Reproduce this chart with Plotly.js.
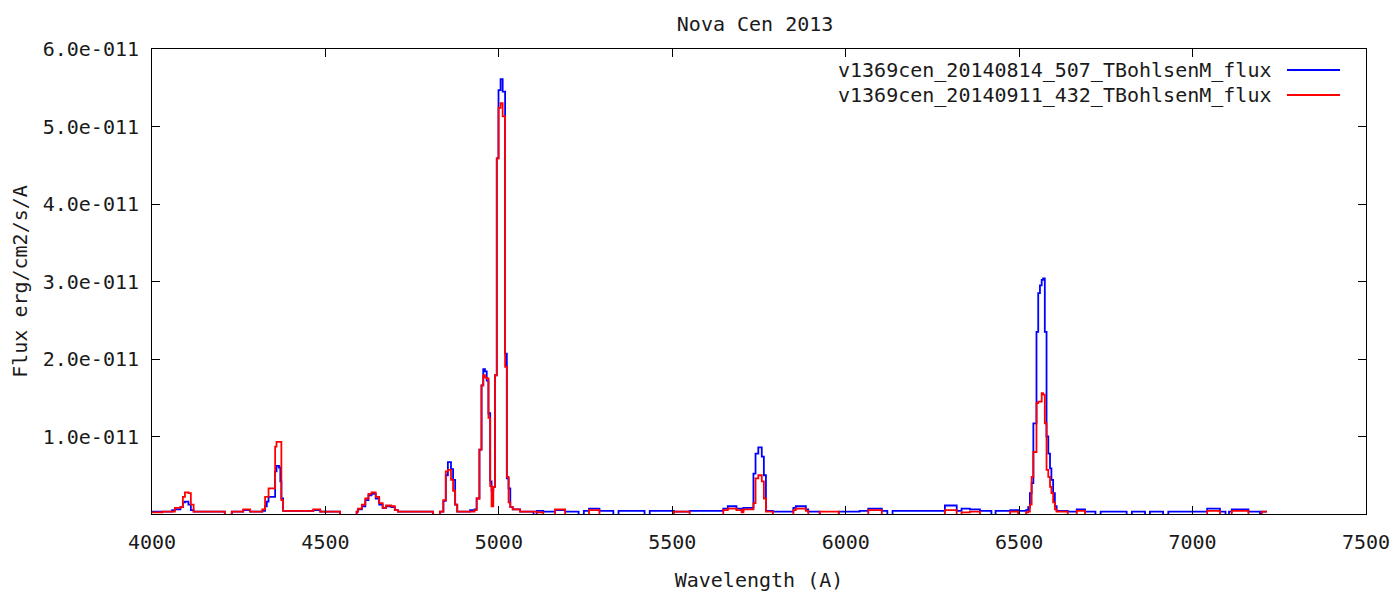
<!DOCTYPE html>
<html>
<head>
<meta charset="utf-8">
<script src="https://cdn.plot.ly/plotly-3.0.1.min.js"></script>
<style>html,body{margin:0;padding:0;background:#fff;}#chart{width:1397px;height:592px;}</style>
</head>
<body>
<div id="chart"></div>
<script>
// Wavelength (Angstrom) sample points (step edges)
const wavelength = [
4000,4030,4058,4066,4082,4089,4095,4105,4112,4120,4210,4230,4263,4283,4318,4326,4331,4336,4355,4359,
4366,4370,4373,4378,4465,4485,4542,4590,4594,4605,4615,4624,4633,4645,4655,4665,4675,4690,4700,4709,
4810,4830,4840,4847,4853,4862,4868,4874,4880,4917,4930,4936,4944,4950,4955,4960,4965,4970,4975,4979,
4984,4989,4994,4999,5005,5011,5018,5023,5028,5033,5040,5061,5100,5109,5128,5162,5191,5230,5245,5260,
5290,5330,5345,5420,5435,5505,5550,5647,5660,5685,5700,5705,5734,5740,5748,5758,5764,5770,5790,5849,
5856,5885,5892,5925,5980,6040,6065,6104,6120,6135,6286,6320,6334,6358,6387,6420,6432,6474,6497,6520,
6526,6531,6536,6541,6550,6555,6560,6565,6569,6574,6579,6584,6589,6593,6598,6603,6608,6640,6666,6690,
6720,6735,6810,6825,6863,6877,6915,6930,7042,7079,7095,7105,7113,7161,7194,7199,7214
];
// Flux in units of 1e-11 erg/cm2/s/A (values below 0 fall outside the plotted range)
const flux20140814 = [
0.03,0.03,0.05,0.06,0.09,0.15,0.16,0.12,0.05,0.03,-0.02,0.03,0.05,0.03,0.04,0.10,0.16,0.22,0.55,0.62,
0.60,0.42,0.20,0.04,0.05,0.03,-0.02,0.03,0.06,0.10,0.18,0.24,0.26,0.20,0.12,0.08,0.10,0.09,0.05,0.03,
-0.02,0.03,0.17,0.50,0.67,0.58,0.44,0.12,0.03,0.05,0.06,0.20,0.83,1.66,1.87,1.84,1.72,1.30,0.42,0.30,
0.35,1.79,4.59,5.47,5.61,5.45,2.07,0.46,0.33,0.09,0.06,0.03,-0.02,0.04,0.03,0.05,0.03,-0.02,0.04,0.07,
0.04,-0.02,0.04,-0.02,0.04,0.03,0.04,0.07,0.10,0.07,0.04,0.08,0.52,0.78,0.86,0.74,0.50,0.04,0.03,0.08,
0.10,0.06,0.03,-0.02,0.03,0.04,0.07,0.04,-0.02,0.04,0.11,0.04,0.07,0.06,0.04,-0.02,0.04,0.05,0.04,0.05,
0.09,0.27,0.40,1.17,2.35,2.85,2.95,3.02,3.04,2.35,1.00,0.78,0.59,0.44,0.27,0.10,0.04,0.03,0.06,0.03,
-0.02,0.03,-0.02,0.03,-0.02,0.03,-0.02,0.03,0.07,0.03,-0.02,0.03,0.06,0.03,-0.02,0.03,0.03
];
const flux20140911 = [
0.02,0.03,0.03,0.08,0.09,0.22,0.28,0.27,0.12,0.03,-0.02,0.03,0.06,0.03,0.06,0.22,0.22,0.33,0.87,0.93,
0.93,0.93,0.18,0.04,0.06,0.03,-0.02,0.03,0.07,0.12,0.20,0.26,0.28,0.22,0.14,0.08,0.11,0.10,0.05,0.03,
-0.02,0.03,0.18,0.55,0.57,0.44,0.30,0.12,0.03,0.03,0.05,0.20,0.83,1.66,1.79,1.76,1.75,1.24,0.36,0.10,
0.35,1.79,4.59,5.24,5.30,5.13,1.90,0.48,0.15,0.09,0.06,0.03,0.03,0.02,-0.03,0.06,-0.03,-0.03,-0.03,0.05,
-0.03,-0.03,-0.03,-0.03,-0.03,0.03,-0.03,0.05,0.07,0.05,0.02,0.06,0.14,0.46,0.50,0.42,0.20,0.03,-0.03,0.05,
0.07,0.04,-0.03,0.03,-0.03,-0.03,0.05,-0.03,-0.03,-0.03,0.05,-0.03,0.02,0.03,-0.03,-0.03,-0.03,0.03,-0.03,0.02,
0.03,0.12,0.48,0.80,1.43,1.45,1.45,1.56,1.54,1.17,0.57,0.48,0.35,0.27,0.15,0.06,0.03,-0.03,0.04,-0.03,
-0.03,-0.03,-0.03,-0.03,-0.03,-0.03,-0.03,-0.03,0.04,-0.03,-0.03,-0.03,0.04,-0.03,-0.03,0.03,0.03
];
const seriesNames = ['v1369cen_20140814_507_TBohlsenM_flux', 'v1369cen_20140911_432_TBohlsenM_flux'];
const seriesColors = ['#0000ff', '#ff0000'];
const FLUX_UNIT = 1e-11;
const yTickValues = [1, 2, 3, 4, 5, 6];
const yTickLabels = ['1.0e-011', '2.0e-011', '3.0e-011', '4.0e-011', '5.0e-011', '6.0e-011'];
const xTickValues = [4000, 4500, 5000, 5500, 6000, 6500, 7000, 7500];

const FONT = 'DejaVu Sans Mono, monospace';
const TEXT_COLOR = '#1a1a1a';
const series = [flux20140814, flux20140911];
const traces = series.map((s, i) => ({
  x: wavelength,
  y: s.map(v => v * FLUX_UNIT),
  type: 'scatter',
  mode: 'lines',
  name: seriesNames[i],
  line: {color: seriesColors[i], width: 1.8, shape: 'hv'},
  hoverinfo: 'x+y'
}));

const legendY = [0.9548, 0.9011];
const annotations = seriesNames.map((n, i) => ({
  xref: 'paper', yref: 'paper', x: 0.9234, y: legendY[i],
  xanchor: 'right', yanchor: 'middle', text: n, showarrow: false,
  font: {family: FONT, size: 20, color: TEXT_COLOR}
}));
const shapes = seriesNames.map((n, i) => ({
  type: 'line', xref: 'paper', yref: 'paper',
  x0: 0.9349, x1: 0.9786, y0: legendY[i], y1: legendY[i],
  line: {color: seriesColors[i], width: 1.8}
}));

const layout = {
  width: 1397, height: 592,
  margin: {l: 152, r: 31, t: 49, b: 78},
  paper_bgcolor: '#fff', plot_bgcolor: '#fff',
  showlegend: false,
  font: {family: FONT, size: 20, color: TEXT_COLOR},
  title: {text: 'Nova Cen 2013', x: 0.5405, xanchor: 'center', y: 0.9595, yanchor: 'middle', yref: 'container',
          font: {family: FONT, size: 20, color: TEXT_COLOR}},
  xaxis: {
    range: [4000, 7500], tickvals: xTickValues, ticktext: xTickValues.map(String),
    ticks: 'inside', ticklen: 8, tickwidth: 1, tickcolor: '#000',
    showline: true, linecolor: '#000', linewidth: 1, mirror: 'ticks',
    showgrid: false, zeroline: false, ticklabelstandoff: 10,
    tickfont: {family: FONT, size: 20, color: TEXT_COLOR},
    title: {text: 'Wavelength (A)', font: {family: FONT, size: 20, color: TEXT_COLOR}, standoff: 19}
  },
  yaxis: {
    range: [0, 6 * FLUX_UNIT], tickvals: yTickValues.map(v => v * FLUX_UNIT), ticktext: yTickLabels,
    ticks: 'inside', ticklen: 8, tickwidth: 1, tickcolor: '#000',
    showline: true, linecolor: '#000', linewidth: 1, mirror: 'ticks',
    showgrid: false, zeroline: false, ticklabelstandoff: 8,
    tickfont: {family: FONT, size: 20, color: TEXT_COLOR},
    title: {text: 'Flux erg/cm2/s/A', font: {family: FONT, size: 20, color: TEXT_COLOR}, standoff: 9}
  },
  annotations: annotations,
  shapes: shapes
};

Plotly.newPlot('chart', traces, layout, {displayModeBar: false, staticPlot: true});
</script>
</body>
</html>
